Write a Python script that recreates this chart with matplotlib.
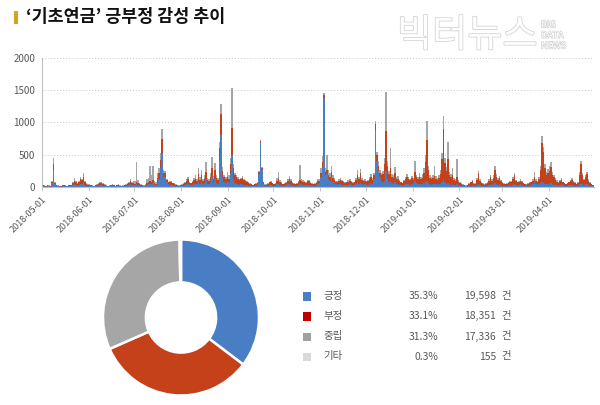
import matplotlib
matplotlib.use("Agg")
import matplotlib.pyplot as plt
import matplotlib.dates as mdates
import matplotlib.patheffects as pe
from matplotlib.patches import Rectangle
import numpy as np
import datetime as dt

plt.rcParams['font.family'] = ['Noto Sans CJK KR', 'DejaVu Sans']

# ---------------- data ----------------
start_date = "2018-05-01"
# daily counts per month (May 2018 .. Apr 2019): positive (blue), negative (red), neutral (gray)
pos = [
    # May
    10, 8, 6, 12, 9, 5, 60, 260, 40, 15, 10, 8, 6, 12, 15, 10, 8, 14, 10, 12, 25, 40, 30, 20, 35, 50, 45, 70, 30, 20, 15,
    # Jun
    15, 12, 10, 8, 12, 15, 20, 30, 25, 20, 15, 10, 8, 10, 12, 15, 10, 8, 12, 14, 10, 8, 9, 12, 15, 20, 30, 45, 25, 30,
    # Jul
    30, 40, 25, 20, 15, 12, 10, 15, 30, 40, 50, 45, 60, 30, 25, 60, 120, 300, 520, 160, 150, 70, 40, 35, 30, 25, 20, 15, 12, 10, 15,
    # Aug
    15, 20, 25, 40, 50, 30, 25, 35, 45, 50, 40, 80, 50, 80, 40, 60, 120, 50, 40, 70, 150, 60, 120, 60, 50, 420, 800, 150, 80, 60, 80,
    # Sep
    70, 200, 500, 120, 60, 50, 40, 35, 40, 45, 35, 30, 25, 20, 18, 15, 12, 15, 20, 40, 200, 680, 280, 50, 20, 15, 20, 25, 30, 20,
    # Oct
    15, 20, 40, 50, 30, 20, 15, 20, 25, 40, 50, 35, 25, 20, 15, 20, 30, 50, 40, 35, 30, 25, 30, 35, 25, 20, 15, 20, 25, 40, 60,
    # Nov
    150, 300, 1380, 180, 200, 120, 100, 150, 80, 60, 40, 35, 40, 45, 35, 30, 25, 30, 35, 40, 30, 25, 30, 45, 80, 50, 60, 40, 35, 40,
    # Dec
    30, 35, 50, 60, 45, 120, 880, 400, 250, 150, 100, 80, 100, 250, 120, 80, 100, 60, 50, 80, 50, 40, 30, 25, 20, 30, 40, 50, 40, 35, 45,
    # Jan
    40, 100, 60, 40, 50, 40, 45, 60, 80, 100, 60, 40, 35, 40, 50, 40, 35, 40, 50, 80, 120, 70, 50, 60, 40, 35, 40, 30, 30, 40, 25,
    # Feb
    20, 15, 12, 10, 8, 10, 15, 20, 25, 15, 15, 30, 50, 30, 20, 15, 12, 15, 20, 30, 40, 30, 40, 60, 40, 30, 50, 30,
    # Mar
    20, 15, 12, 15, 20, 25, 20, 30, 40, 25, 20, 30, 40, 30, 20, 15, 12, 15, 20, 25, 40, 90, 40, 30, 40, 60, 80, 60, 50, 40, 40,
    # Apr
    50, 60, 40, 35, 30, 25, 20, 30, 40, 25, 20, 15, 20, 25, 30, 35, 25, 20, 15, 20, 40, 50, 40, 30, 40, 50, 30, 20, 15, 10,
]
neg = [
    # May
    15, 10, 8, 14, 10, 8, 20, 100, 25, 12, 10, 9, 8, 15, 14, 10, 9, 12, 14, 15, 30, 60, 40, 25, 40, 70, 60, 90, 40, 25, 20,
    # Jun
    20, 15, 12, 10, 15, 20, 30, 35, 30, 25, 18, 12, 10, 12, 15, 20, 14, 10, 15, 18, 12, 10, 12, 15, 18, 25, 35, 50, 30, 25,
    # Jul
    20, 45, 30, 25, 20, 15, 12, 20, 35, 30, 40, 35, 50, 25, 20, 80, 100, 120, 230, 60, 60, 40, 30, 40, 45, 30, 25, 20, 15, 12, 15,
    # Aug
    20, 25, 30, 50, 70, 35, 30, 40, 60, 70, 50, 120, 60, 100, 50, 70, 110, 60, 55, 90, 150, 70, 140, 80, 60, 180, 330, 100, 70, 60, 70,
    # Sep
    60, 150, 420, 180, 120, 100, 90, 70, 80, 100, 70, 60, 50, 40, 30, 25, 20, 25, 30, 25, 30, 30, 20, 20, 15, 20, 30, 45, 50, 35,
    # Oct
    25, 30, 60, 80, 50, 35, 25, 30, 40, 60, 80, 60, 40, 30, 25, 30, 45, 60, 60, 50, 45, 40, 60, 55, 40, 30, 25, 30, 35, 50, 40,
    # Nov
    60, 80, 40, 60, 60, 60, 60, 80, 60, 50, 40, 45, 60, 70, 55, 45, 35, 40, 50, 60, 45, 35, 40, 60, 100, 70, 150, 70, 55, 60,
    # Dec
    50, 55, 70, 90, 60, 60, 100, 90, 80, 70, 80, 120, 250, 620, 200, 120, 200, 100, 90, 140, 80, 90, 60, 45, 35, 60, 80, 100, 80, 70, 90,
    # Jan
    70, 140, 90, 80, 110, 80, 100, 150, 300, 630, 200, 100, 90, 100, 120, 90, 80, 100, 150, 350, 775, 300, 200, 375, 150, 120, 150, 80, 70, 120, 60,
    # Feb
    45, 35, 25, 20, 15, 18, 30, 50, 65, 35, 30, 80, 150, 70, 45, 30, 25, 30, 45, 70, 110, 70, 100, 200, 120, 80, 90, 60,
    # Mar
    45, 35, 30, 35, 45, 50, 60, 100, 150, 70, 50, 50, 60, 45, 35, 30, 25, 30, 40, 45, 60, 70, 60, 50, 90, 200, 600, 480, 250, 150, 180,
    # Apr
    200, 250, 150, 120, 80, 60, 45, 60, 70, 45, 35, 30, 35, 45, 60, 80, 50, 40, 30, 45, 150, 310, 150, 80, 120, 150, 70, 45, 30, 20,
]
neu = [
    # May
    8, 6, 5, 9, 6, 4, 15, 95, 15, 8, 6, 5, 4, 8, 9, 6, 5, 8, 7, 8, 15, 35, 20, 12, 20, 30, 25, 50, 20, 12, 10,
    # Jun
    10, 8, 6, 5, 8, 10, 15, 20, 15, 12, 10, 6, 5, 6, 8, 10, 7, 5, 8, 9, 6, 5, 6, 8, 10, 12, 20, 30, 15, 40,
    # Jul
    40, 300, 60, 20, 12, 10, 8, 15, 60, 70, 240, 100, 210, 40, 30, 80, 80, 110, 150, 40, 40, 20, 15, 20, 15, 12, 10, 8, 6, 5, 8,
    # Aug
    10, 12, 15, 30, 40, 15, 12, 20, 40, 60, 30, 95, 40, 85, 30, 60, 160, 30, 25, 60, 160, 40, 110, 40, 30, 100, 150, 60, 40, 40, 90,
    # Sep
    50, 100, 610, 50, 40, 30, 25, 20, 25, 30, 20, 15, 15, 10, 10, 8, 6, 8, 10, 10, 20, 20, 15, 10, 8, 8, 10, 15, 20, 10,
    # Oct
    10, 15, 40, 110, 25, 15, 10, 12, 15, 30, 45, 25, 15, 10, 8, 12, 25, 230, 30, 25, 20, 15, 20, 20, 15, 10, 8, 10, 12, 30, 30,
    # Nov
    90, 100, 30, 60, 235, 80, 60, 95, 40, 30, 20, 20, 25, 30, 20, 15, 12, 15, 20, 30, 20, 15, 15, 30, 85, 30, 65, 25, 20, 25,
    # Dec
    20, 20, 40, 50, 30, 40, 50, 55, 70, 50, 40, 50, 100, 600, 80, 50, 300, 40, 40, 90, 30, 40, 20, 15, 10, 20, 30, 50, 30, 25, 40,
    # Jan
    30, 160, 40, 30, 50, 30, 60, 90, 120, 300, 60, 40, 30, 50, 155, 40, 30, 40, 60, 100, 205, 80, 60, 255, 50, 40, 100, 30, 30, 270, 25,
    # Feb
    15, 10, 8, 6, 5, 6, 10, 15, 20, 10, 10, 30, 50, 20, 15, 10, 8, 10, 15, 30, 40, 25, 40, 70, 40, 30, 30, 20,
    # Mar
    15, 10, 8, 10, 15, 15, 15, 25, 32, 20, 15, 20, 30, 15, 10, 8, 8, 10, 12, 15, 30, 80, 30, 20, 30, 60, 110, 80, 50, 40, 60,
    # Apr
    80, 80, 40, 30, 25, 20, 15, 20, 30, 15, 10, 8, 10, 15, 20, 25, 15, 10, 8, 12, 40, 50, 30, 20, 30, 40, 20, 12, 8, 5,
]

y_ticks = [0, 500, 1000, 1500, 2000]
month_ticks = ["2018-05-01", "2018-06-01", "2018-07-01", "2018-08-01", "2018-09-01", "2018-10-01",
               "2018-11-01", "2018-12-01", "2019-01-01", "2019-02-01", "2019-03-01", "2019-04-01"]

donut_labels = ["긍정", "부정", "중립", "기타"]
donut_pct = [35.3, 33.1, 31.3, 0.3]
donut_counts = [19598, 18351, 17336, 155]

title = "‘기초연금’ 긍부정 감성 추이"

# ---------------- style ----------------
c_pos = "#4a7ec4"
c_neg = "#c4411a"
c_neu = "#a6a6a6"
c_etc = "#d9d9d9"
legend_sq = ["#4a7ec4", "#c00000", "#a0a0a0", "#d9d9d9"]
txt_gray = "#595959"

fig = plt.figure(figsize=(6.0, 4.05), dpi=100)
fig.patch.set_facecolor("white")

# title with yellow bar
fig.add_artist(Rectangle((14 / 600, 1 - 24 / 405), 3.5 / 600, 13 / 405,
                         transform=fig.transFigure, color="#d4a41c", lw=0))
fig.text(26 / 600, 1 - 17.5 / 405, title, fontsize=12.5, fontweight="bold",
         va="center", ha="left", color="#111111")

# watermark
wm = fig.text(397 / 600, 1 - 36 / 405, "빅터뉴스", fontsize=27.5, color="white",
              va="center", ha="left", fontweight="light")
wm.set_path_effects([pe.Stroke(linewidth=1.1, foreground="#d0d0d0"), pe.Normal()])
for i, w in enumerate(["BIG", "DATA", "NEWS"]):
    t = fig.text(541 / 600, 1 - (25 + i * 10.5) / 405, w, fontsize=6.5, color="white",
                 va="center", ha="left")
    t.set_path_effects([pe.Stroke(linewidth=0.9, foreground="#cdcdcd"), pe.Normal()])

# ---------------- bar chart ----------------
ax = fig.add_axes([42 / 600, 1 - 187 / 405, (594 - 42) / 600, (187 - 58) / 405])
n = len(pos)
dates = np.array([np.datetime64(start_date) + np.timedelta64(i, "D") for i in range(n)])
x = mdates.date2num(dates.astype("datetime64[D]").astype(dt.date))
pos_a = np.array(pos)
neg_a = np.array(neg)
neu_a = np.array(neu)
ax.bar(x, pos_a, width=1.0, color=c_pos, linewidth=0, align="edge")
ax.bar(x, neg_a, width=1.0, bottom=pos_a, color=c_neg, linewidth=0, align="edge")
ax.bar(x, neu_a, width=1.0, bottom=pos_a + neg_a, color=c_neu, linewidth=0, align="edge")

ax.set_ylim(0, 2000)
ax.set_xlim(mdates.date2num(dt.date(2018, 5, 1)), mdates.date2num(dt.date(2019, 5, 1)))
ax.set_yticks(y_ticks)
ax.set_yticklabels([str(v) for v in y_ticks])
tick_x = [mdates.date2num(dt.date.fromisoformat(d)) for d in month_ticks]
ax.set_xticks(tick_x)
ax.set_xticklabels(month_ticks, rotation=45, ha="right", va="top", rotation_mode="anchor")
ax.tick_params(axis="y", length=0, labelsize=7, labelcolor=txt_gray, pad=5)
ax.tick_params(axis="x", length=3, width=0.6, color="#bfbfbf", labelsize=6.5,
               labelcolor=txt_gray, pad=3)
for s in ["top", "right"]:
    ax.spines[s].set_visible(False)
for s in ["left", "bottom"]:
    ax.spines[s].set_color("#bfbfbf")
    ax.spines[s].set_linewidth(0.8)
ax.yaxis.grid(True, linestyle=(0, (1, 2)), color="#c8c8c8", linewidth=0.7)
ax.set_axisbelow(True)
ax.set_facecolor("none")

# ---------------- donut ----------------
R = 78
axd = fig.add_axes([(181 - R) / 600, 1 - (317.5 + R) / 405, 2 * R / 600, 2 * R / 405])
axd.pie(donut_pct, colors=[c_pos, c_neg, c_neu, c_etc], startangle=90, counterclock=False,
        radius=1.0, wedgeprops=dict(width=0.55, edgecolor="white", linewidth=1.8))
axd.set_xlim(-1.0, 1.0)
axd.set_ylim(-1.0, 1.0)
axd.set_aspect("auto")
axd.axis("off")

# ---------------- legend table ----------------
rows_y = [296, 316, 336.5, 356.5]
for i in range(len(donut_labels)):
    yy = 1 - rows_y[i] / 405
    fig.add_artist(Rectangle((302.5 / 600, yy - 4.5 / 405), 8.5 / 600, 8.5 / 405,
                             transform=fig.transFigure, color=legend_sq[i], lw=0))
    fig.text(323 / 600, yy, donut_labels[i], fontsize=7.5, color=txt_gray, va="center", ha="left")
    fig.text(438 / 600, yy, f"{donut_pct[i]:.1f}%", fontsize=7.5, color=txt_gray,
             va="center", ha="right")
    fig.text(496 / 600, yy, f"{donut_counts[i]:,}", fontsize=7.5, color=txt_gray,
             va="center", ha="right")
    fig.text(501 / 600, yy, "건", fontsize=7.5, color=txt_gray, va="center", ha="left")

fig.savefig("out.png", dpi=100, facecolor="white")
